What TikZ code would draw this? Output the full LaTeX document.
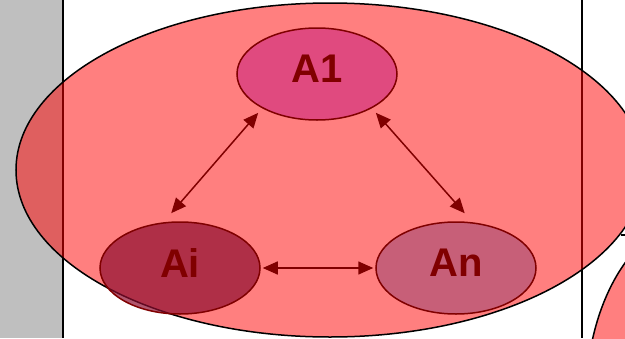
\documentclass[tikz,border=0pt]{standalone}
\usepackage{fontspec}
\setmainfont{Liberation Sans}
\usetikzlibrary{shapes.geometric, arrows.meta}
\definecolor{pairline}{RGB}{128,0,0}
\definecolor{onefill}{RGB}{211,51,128}
\definecolor{ifill}{RGB}{142,14,48}
\definecolor{nfill}{RGB}{176,82,117}

\tikzset{
  agent/.style={ellipse, draw=pairline, line width=1.5pt, fill opacity=0.7, text opacity=1,
    minimum width=160pt, minimum height=92pt, inner sep=0pt, text=pairline,
    font=\fontsize{40}{40}\selectfont\bfseries, text depth=10pt},
  link/.style={draw=pairline, line width=1.5pt,
    {Triangle[length=15pt,width=13pt]}-{Triangle[length=15pt,width=13pt]}},
  group/.style={draw=black, line width=1.5pt, fill=red, fill opacity=0.5}
}

\begin{document}
\begin{tikzpicture}[x=1pt,y=-1pt]
		\useasboundingbox (0,0) rectangle (625,338);
		\clip (0,0) rectangle (625,338);

		% Background
		\fill[gray!50] (0,0) rectangle (63,338);
		\draw[line width=1.2pt] (63,0) -- (63,338);
		\draw[line width=1.2pt] (582,0) -- (582,338);
		\draw[line width=1.5pt] (621,235) -- (625,235);

		% Groups
		\draw[group] (330,170) ellipse (314 and 167);
		\draw[group] (700,400) ellipse (114 and 182);

		% Agents
		\node[agent, fill=onefill] (A1) at (317,74) {A1};
		\node[agent, fill=ifill] (Ai) at (180,268) {Ai};
		\node[agent, fill=nfill] (An) at (456,268) {An};

		% Links
		\draw[link, shorten <=6pt, shorten >=12pt] (A1.212) -- (Ai.110);
		\draw[link, shorten <=6pt, shorten >=12pt] (A1.328) -- (An.70);
		\draw[link, shorten <=2pt, shorten >=2pt] (Ai.east) -- (An.west);
	\end{tikzpicture}
\end{document}
